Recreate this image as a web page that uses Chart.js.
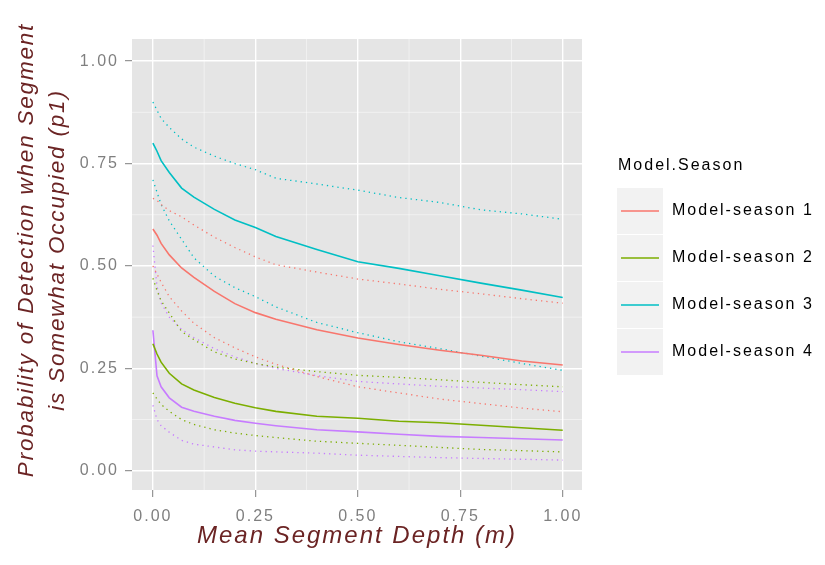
<!DOCTYPE html>
<html>
<head>
<meta charset="utf-8">
<script src="https://cdn.jsdelivr.net/npm/chart.js@4/dist/chart.umd.min.js"></script>
<style>
  html, body { margin: 0; padding: 0; background: #fff; }
  canvas { display: block; }
</style>
</head>
<body>
<canvas id="depthChart" width="825" height="565"></canvas>
<script>
// mean segment depth (m)
const depth = [0, 0.01, 0.02, 0.04, 0.07, 0.1, 0.15, 0.2, 0.25, 0.3, 0.4, 0.5, 0.6, 0.7, 0.8, 0.9, 1.0]

// fitted p1 and its dotted bounds, one set per model-season
const season1Fit   = [0.590, 0.575, 0.555, 0.527, 0.495, 0.472, 0.438, 0.408, 0.386, 0.370, 0.344, 0.324, 0.308, 0.294, 0.282, 0.268, 0.258]
const season1Upper = [0.665, 0.660, 0.650, 0.635, 0.620, 0.600, 0.570, 0.545, 0.522, 0.503, 0.485, 0.468, 0.456, 0.443, 0.432, 0.420, 0.409]
const season1Lower = [0.500, 0.480, 0.460, 0.425, 0.390, 0.360, 0.325, 0.300, 0.278, 0.260, 0.230, 0.205, 0.190, 0.175, 0.164, 0.153, 0.144]

const season2Fit   = [0.310, 0.285, 0.265, 0.238, 0.212, 0.197, 0.179, 0.165, 0.154, 0.145, 0.133, 0.128, 0.121, 0.117, 0.111, 0.105, 0.099]
const season2Upper = [0.470, 0.440, 0.415, 0.385, 0.340, 0.320, 0.290, 0.273, 0.262, 0.253, 0.242, 0.233, 0.228, 0.222, 0.216, 0.210, 0.205]
const season2Lower = [0.190, 0.175, 0.162, 0.145, 0.125, 0.113, 0.100, 0.092, 0.086, 0.081, 0.072, 0.067, 0.062, 0.057, 0.052, 0.049, 0.046]

const season3Fit   = [0.800, 0.780, 0.757, 0.728, 0.690, 0.668, 0.638, 0.612, 0.594, 0.572, 0.540, 0.510, 0.494, 0.476, 0.458, 0.441, 0.423]
const season3Upper = [0.900, 0.880, 0.860, 0.838, 0.810, 0.790, 0.768, 0.750, 0.735, 0.714, 0.700, 0.685, 0.667, 0.655, 0.637, 0.627, 0.614]
const season3Lower = [0.710, 0.680, 0.650, 0.610, 0.565, 0.520, 0.475, 0.447, 0.425, 0.400, 0.362, 0.337, 0.315, 0.298, 0.280, 0.262, 0.245]

const season4Fit   = [0.343, 0.232, 0.205, 0.178, 0.155, 0.145, 0.133, 0.123, 0.116, 0.110, 0.100, 0.095, 0.089, 0.084, 0.081, 0.078, 0.075]
const season4Upper = [0.550, 0.450, 0.410, 0.375, 0.345, 0.325, 0.298, 0.278, 0.262, 0.250, 0.232, 0.218, 0.212, 0.206, 0.202, 0.198, 0.193]
const season4Lower = [0.160, 0.125, 0.110, 0.094, 0.074, 0.065, 0.058, 0.051, 0.048, 0.046, 0.043, 0.038, 0.035, 0.032, 0.030, 0.028, 0.026]

const seasonNames = ['Model-season 1', 'Model-season 2', 'Model-season 3', 'Model-season 4']
const seasonColors = ['#F8766D', '#7CAE00', '#00BFC4', '#C77CFF']
const xTicks = [0, 0.25, 0.5, 0.75, 1]
const yTicks = [0, 0.25, 0.5, 0.75, 1]
const xMinor = [0.125, 0.375, 0.625, 0.875]
const yMinor = [0.125, 0.375, 0.625, 0.875]
const yTitleLines = ['Probability of Detection when Segment', 'is Somewhat Occupied (p1)']

const seasonSets = [
    [season1Fit, season1Upper, season1Lower],
    [season2Fit, season2Upper, season2Lower],
    [season3Fit, season3Upper, season3Lower],
    [season4Fit, season4Upper, season4Lower],
]

const FONT = '"Liberation Sans", Arial, sans-serif'
const TITLE_COLOR = '#6b2424'
const TICK_GREY = '#7f7f7f'

const toPoints = (values) => depth.map((x, i) => ({ x: x, y: values[i] }))

const datasets = []
seasonSets.forEach((set, s) => {
    const [fit, upper, lower] = set
    datasets.push({
        label: seasonNames[s],
        data: toPoints(fit),
        borderColor: seasonColors[s],
        borderWidth: 1.6,
        pointRadius: 0,
        tension: 0,
    })
    ;[upper, lower].forEach((bound) => {
        datasets.push({
            label: seasonNames[s] + ' bound',
            data: toPoints(bound),
            borderColor: seasonColors[s],
            borderWidth: 1.3,
            borderDash: [1.3, 4],
            pointRadius: 0,
            tension: 0,
        })
    })
})

// grey panel, minor grid and text spacing
const panelPlugin = {
    id: 'panel',
    beforeDraw(chart) {
        const { ctx, chartArea: a, scales } = chart
        ctx.save()
        ctx.fillStyle = '#e5e5e5'
        ctx.fillRect(a.left, a.top, a.right - a.left, a.bottom - a.top)
        ctx.strokeStyle = 'rgba(255,255,255,0.6)'
        ctx.lineWidth = 0.8
        xMinor.forEach((v) => {
            const px = scales.x.getPixelForValue(v)
            ctx.beginPath(); ctx.moveTo(px, a.top); ctx.lineTo(px, a.bottom); ctx.stroke()
        })
        yMinor.forEach((v) => {
            const py = scales.y.getPixelForValue(v)
            ctx.beginPath(); ctx.moveTo(a.left, py); ctx.lineTo(a.right, py); ctx.stroke()
        })
        ctx.restore()
        ctx.letterSpacing = '2px'
    },
    afterDraw(chart) {
        chart.ctx.letterSpacing = '0px'
    }
}

// two-line y title, sitting a little above the panel's middle
const yTitlePlugin = {
    id: 'yTitle',
    afterDraw(chart) {
        const ctx = chart.ctx
        ctx.save()
        ctx.letterSpacing = '1.8px'
        ctx.font = 'italic 22.5px ' + FONT
        ctx.fillStyle = TITLE_COLOR
        ctx.textAlign = 'center'
        ctx.textBaseline = 'middle'
        ctx.translate(0, 250)
        ctx.rotate(-Math.PI / 2)
        yTitleLines.forEach((line, i) => {
            ctx.fillText(line, 0, 27 + i * 31)
        })
        ctx.restore()
    }
}

// legend on the right
const legendPlugin = {
    id: 'seasonLegend',
    afterDraw(chart) {
        const ctx = chart.ctx
        ctx.save()
        ctx.letterSpacing = '2px'
        ctx.font = '16px ' + FONT
        ctx.textBaseline = 'middle'
        ctx.textAlign = 'left'
        ctx.fillStyle = '#000'
        ctx.fillText('Model.Season', 618, 166)
        seasonNames.forEach((name, i) => {
            const cy = 211 + i * 47
            ctx.fillStyle = '#f2f2f2'
            ctx.fillRect(617, cy - 23, 46, 46)
            ctx.strokeStyle = seasonColors[i]
            ctx.lineWidth = 1.6
            ctx.beginPath(); ctx.moveTo(621, cy); ctx.lineTo(659, cy); ctx.stroke()
            ctx.fillStyle = '#000'
            ctx.fillText(name, 672, cy)
        })
        ctx.restore()
    }
}

new Chart(document.getElementById('depthChart'), {
    type: 'line',
    data: { datasets },
    options: {
        responsive: false,
        animation: false,
        devicePixelRatio: 1,
        layout: { padding: { top: 39, right: 243, left: 0, bottom: 0 } },
        plugins: {
            legend: { display: false },
            tooltip: { enabled: false },
        },
        scales: {
            x: {
                type: 'linear',
                min: -0.051,
                max: 1.047,
                afterBuildTicks: (scale) => { scale.ticks = xTicks.map((v) => ({ value: v })) },
                afterFit: (scale) => { scale.height = 75 },
                border: { display: false },
                grid: { color: '#ffffff', lineWidth: 1.4, tickColor: TICK_GREY, tickLength: 7, tickWidth: 1 },
                ticks: {
                    color: TICK_GREY,
                    padding: 10,
                    maxRotation: 0,
                    font: { family: FONT, size: 16 },
                    callback: (v) => v.toFixed(2),
                },
                title: {
                    display: true,
                    text: 'Mean Segment Depth (m)',
                    color: TITLE_COLOR,
                    font: { family: FONT, size: 24, style: 'italic', lineHeight: 1.2 },
                    padding: { top: 0, bottom: 14.6 },
                },
            },
            y: {
                type: 'linear',
                min: -0.047,
                max: 1.054,
                afterBuildTicks: (scale) => { scale.ticks = yTicks.map((v) => ({ value: v })) },
                afterFit: (scale) => { scale.width = 132 },
                border: { display: false },
                grid: { color: '#ffffff', lineWidth: 1.4, tickColor: TICK_GREY, tickLength: 7, tickWidth: 1 },
                ticks: {
                    color: TICK_GREY,
                    padding: 6,
                    font: { family: FONT, size: 16 },
                    callback: (v) => v.toFixed(2),
                },
                title: { display: false },
            },
        },
    },
    plugins: [panelPlugin, yTitlePlugin, legendPlugin],
})
</script>
</body>
</html>
